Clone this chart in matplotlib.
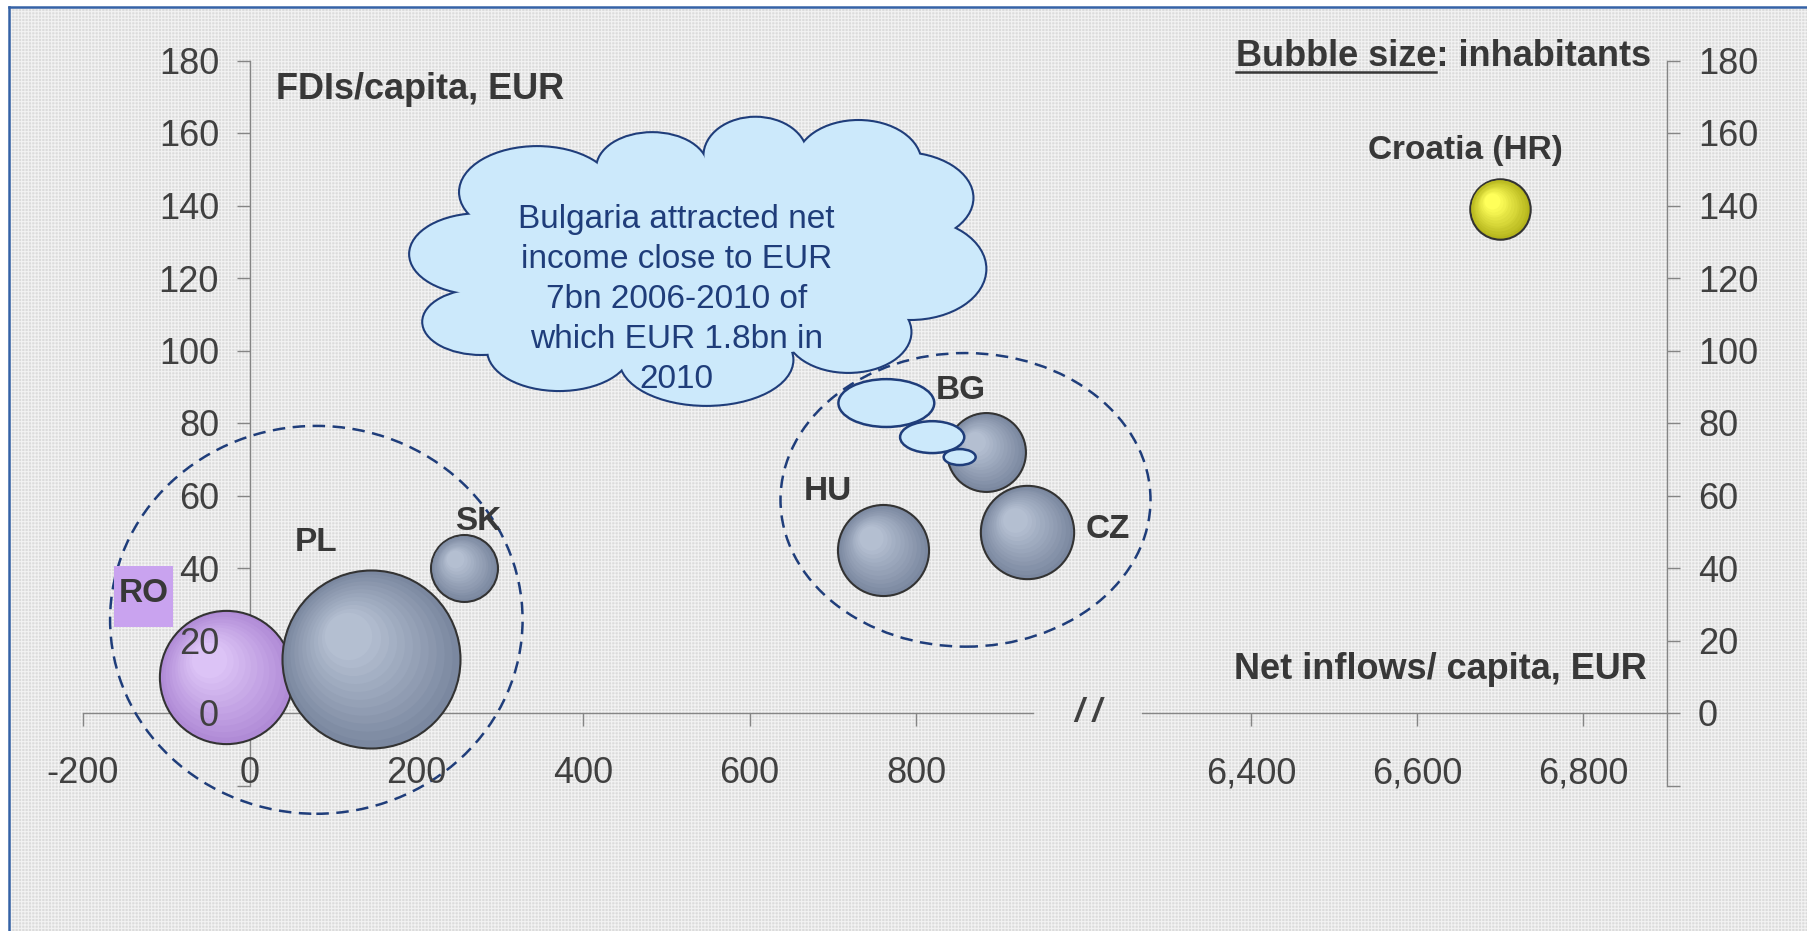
import numpy as np
import matplotlib
matplotlib.use('Agg')
import matplotlib.pyplot as plt
import matplotlib.colors as mcolors
from matplotlib import transforms
from matplotlib.patches import Ellipse, Rectangle
from matplotlib.lines import Line2D
from matplotlib.ticker import FuncFormatter

plt.rcParams['font.family'] = ['Liberation Sans', 'DejaVu Sans']
plt.rcParams['axes.unicode_minus'] = False
plt.rcParams['hatch.linewidth'] = 0.8

# data: net FDI inflows per capita (x), FDIs per capita (y), inhabitants in mn (bubble size)
countries = ['RO', 'PL', 'SK', 'HU', 'BG', 'CZ', 'HR']
net_inflows = [-28, 146, 257, 760, 883, 933, 6700]
fdi_per_capita = [10, 15, 40, 45, 72, 50, 139]
inhabitants = [21.4, 38.2, 5.4, 10.0, 7.5, 10.5, 4.4]

left_xticks = [-200, 0, 200, 400, 600, 800]
right_xticks = [6400, 6600, 6800]
yticks = list(range(-20, 181, 20))

W, H = 1807, 931
GREY = '#858585'
TXT = '#383838'
DARKBLUE = '#1f3d7a'

# bubble colours (outer ring, highlight)
bubble_cols = {'RO': ('#b08bd6', '#dcc3f6'), 'HR': ('#b5b51c', '#ffff5a')}
default_cols = ('#7b88a0', '#b4bfd1')

fig = plt.figure(figsize=(W / 100, H / 100), dpi=100)
fig.patch.set_facecolor('white')

# textured light grey background with blue frame on top/left
bg = Rectangle((9 / W, 0), 1, 1 - 7 / H, transform=fig.transFigure,
               facecolor='#dbdbdb', edgecolor='#f2f2f2', hatch='+++++', lw=0, zorder=-10)
fig.add_artist(bg)
fig.add_artist(Line2D([9 / W, 9 / W], [0, 1 - 7 / H], color='#3562a6', lw=1.8))
fig.add_artist(Line2D([9 / W, 1], [1 - 7 / H, 1 - 7 / H], color='#3562a6', lw=1.8))

bottom = (H - 785.5) / H
height = 725 / H
pos1 = [83 / W, bottom, 950 / W, height]
pos2 = [1142 / W, bottom, 525 / W, height]

# ---- left part of the broken x axis ----
ax1 = fig.add_axes(pos1)
ax1.set_xlim(-200, 940)
ax1.set_ylim(-20, 180)
ax1.patch.set_visible(False)
for s in ['top', 'right']:
    ax1.spines[s].set_visible(False)
for s in ['left', 'bottom']:
    ax1.spines[s].set_position(('data', 0))
    ax1.spines[s].set_color(GREY)
    ax1.spines[s].set_linewidth(1.0)
ax1.set_xticks(left_xticks)
ax1.set_yticks(yticks)
ax1.tick_params(direction='out', length=9.4, width=1.0, color=GREY,
                labelbottom=False, labelleft=False)

# overlay axes that only carries the tick labels (labels sit above the bubbles)
ax1t = fig.add_axes(pos1, sharex=ax1, sharey=ax1)
ax1t.patch.set_visible(False)
for s in ax1t.spines:
    ax1t.spines[s].set_visible(False)
ax1t.spines['left'].set_position(('data', 0))
ax1t.spines['bottom'].set_position(('data', 0))
ax1t.yaxis.set_major_formatter(FuncFormatter(lambda v, p: '' if v < 0 else f'{v:.0f}'))
ax1t.xaxis.set_major_formatter(FuncFormatter(lambda v, p: f'{v:.0f}'))
ax1t.tick_params(axis='x', length=0, labelsize=26, labelcolor='#404040', pad=31)
ax1t.tick_params(axis='y', length=0, labelsize=26, labelcolor='#404040', pad=22)

# ---- right part of the broken x axis ----
ax2 = fig.add_axes(pos2)
ax2.set_xlim(6269, 6901)
ax2.set_ylim(-20, 180)
ax2.patch.set_visible(False)
for s in ['top', 'left']:
    ax2.spines[s].set_visible(False)
ax2.spines['bottom'].set_position(('data', 0))
for s in ['right', 'bottom']:
    ax2.spines[s].set_color(GREY)
    ax2.spines[s].set_linewidth(1.0)
ax2.yaxis.tick_right()
ax2.set_xticks(right_xticks)
ax2.set_yticks(yticks)
ax2.xaxis.set_major_formatter(FuncFormatter(lambda v, p: f'{v:,.0f}'))
ax2.yaxis.set_major_formatter(FuncFormatter(lambda v, p: '' if v < 0 else f'{v:.0f}'))
ax2.tick_params(direction='out', length=9.4, width=1.0, color=GREY,
                labelsize=26, labelcolor='#404040')
ax2.tick_params(axis='x', pad=22)
ax2.tick_params(axis='y', pad=13)

# axis break mark
fig.text(1088 / W, 1 - 712 / H, '/ /', ha='center', va='center', fontsize=24,
         fontweight='bold', fontstyle='italic', color='#404040')


def draw_bubble(ax, x, y, size, outer, inner, n=12):
    r_pt = np.sqrt(size) / 2
    c0 = np.array(mcolors.to_rgb(outer))
    c1 = np.array(mcolors.to_rgb(inner))
    ax.scatter([x], [y], s=size, color=outer, edgecolors='#333333',
               linewidths=1.5, zorder=3, clip_on=False)
    for k in range(1, n):
        f = 1 - 0.8 * k / n
        shift = (1 - f) * r_pt * 0.35
        tr = transforms.offset_copy(ax.transData, fig=ax.figure, x=-shift, y=shift, units='points')
        col = c0 + (c1 - c0) * k / (n - 1)
        ax.scatter([x], [y], s=size * f * f, color=col, linewidths=0,
                   zorder=3, transform=tr, clip_on=False)


size_scale = 430  # points^2 per mn inhabitants
for c, x, y, pop in zip(countries, net_inflows, fdi_per_capita, inhabitants):
    outer, inner = bubble_cols.get(c, default_cols)
    ax = ax2 if x > 6000 else ax1
    draw_bubble(ax, x, y, pop * size_scale, outer, inner)

# country labels
label_pos = {'RO': (-127, 33), 'PL': (80, 47), 'SK': (274, 52.7), 'HU': (694, 61),
             'BG': (853, 89), 'CZ': (1030, 50.5)}
ax1.add_patch(Rectangle((-163, 23.7), 71, 16.8, facecolor='#c9a3ef', edgecolor='none', zorder=4))
for c, (lx, ly) in label_pos.items():
    ax1.text(lx, ly, c, ha='center', va='center', fontsize=24, fontweight='bold',
             color=TXT, zorder=6)
ax2.text(6658, 155.3, 'Croatia (HR)', ha='center', va='center', fontsize=24,
         fontweight='bold', color=TXT, zorder=6)

# dashed group ellipses
for (cx, cy, w, h) in [(80, 25.7, 495, 107), (859, 58.8, 444, 81)]:
    ax1.add_patch(Ellipse((cx, cy), w, h, fill=False, edgecolor=DARKBLUE, lw=1.8,
                          linestyle=(0, (5, 3)), zorder=2.8, clip_on=False))

# thought cloud
cloud_lobes = [(345, 143.7, 185, 24.8), (483, 150.3, 132, 19.3), (607, 153.7, 122.5, 21),
               (730.6, 151.7, 149, 23.2), (780.8, 142.1, 173, 24.8), (792.8, 122.5, 180, 27.6),
               (718.4, 105.1, 149, 22), (548, 97.4, 206.5, 24.8), (371.4, 100.1, 170.5, 22),
               (277.8, 107.9, 139, 17.7), (276.6, 126.6, 168, 22), (540.7, 125, 576, 55)]
CLOUD = '#cce9fb'
for (cx, cy, w, h) in cloud_lobes:
    ax1.add_patch(Ellipse((cx, cy), w, h, facecolor=CLOUD, edgecolor=DARKBLUE, lw=3,
                          zorder=5, clip_on=False))
for (cx, cy, w, h) in cloud_lobes:
    ax1.add_patch(Ellipse((cx, cy), w, h, facecolor=CLOUD, edgecolor='none',
                          zorder=5.1, clip_on=False))
for (cx, cy, w, h) in [(764, 85.5, 115, 13.2), (819, 76.1, 77, 8.8), (852, 70.6, 38.4, 4.4)]:
    ax1.add_patch(Ellipse((cx, cy), w, h, facecolor=CLOUD, edgecolor=DARKBLUE, lw=1.8,
                          zorder=5.3, clip_on=False))
ax1.text(512, 114, 'Bulgaria attracted net\nincome close to EUR\n7bn 2006-2010 of\n'
         'which EUR 1.8bn in\n2010', ha='center', va='center', fontsize=24,
         color=DARKBLUE, linespacing=1.38, zorder=5.2)

# axis titles
ax1.text(32, 172, 'FDIs/capita, EUR', ha='left', va='center', fontsize=26,
         fontweight='bold', color=TXT, zorder=6)
ax2.text(6877, 11.9, 'Net inflows/ capita, EUR', ha='right', va='center', fontsize=26,
         fontweight='bold', color=TXT, zorder=6)
t_bub = ax2.text(6882, 181, 'Bubble size: inhabitants', ha='right', va='center',
                 fontsize=26, fontweight='bold', color=TXT, zorder=6)

# underline "Bubble size"
fig.canvas.draw()
r = fig.canvas.get_renderer()
bb = t_bub.get_window_extent(r)
tmp = ax2.text(0, 0, 'Bubble size', fontsize=26, fontweight='bold')
w_part = tmp.get_window_extent(r).width
tmp.remove()
fig.add_artist(Line2D([bb.x0, bb.x0 + w_part], [bb.y0 + 2, bb.y0 + 2], color=TXT, lw=1.8,
                      transform=transforms.IdentityTransform()))

fig.savefig('out.png', dpi=100, facecolor=fig.get_facecolor())
